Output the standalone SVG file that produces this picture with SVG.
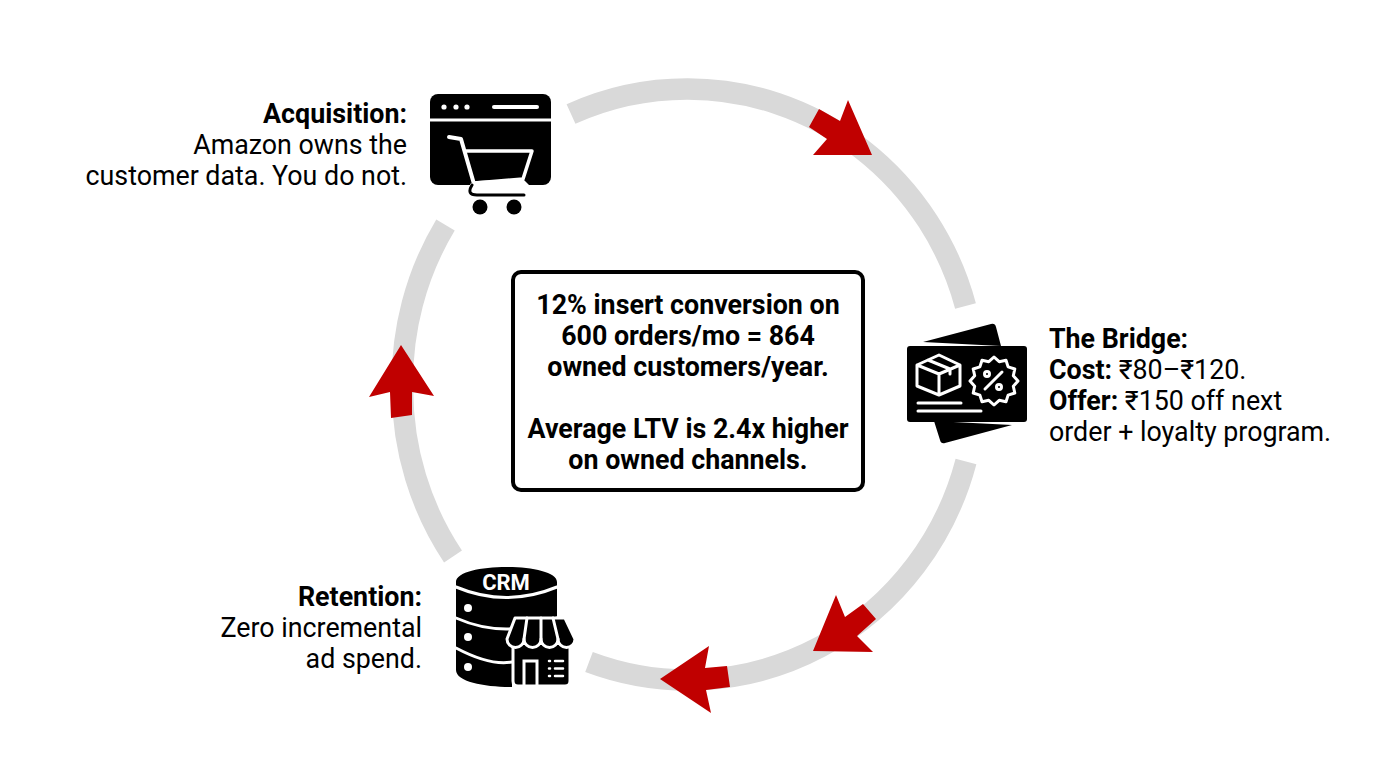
<svg xmlns="http://www.w3.org/2000/svg" width="1376" height="768" viewBox="0 0 1376 768">
<style>
.t{font-family:Roboto,"Liberation Sans",sans-serif;font-size:26.8px;fill:#000}
.b{font-weight:700}
.ring{fill:none;stroke:#d9d9d9;stroke-width:21.5}
.ah{fill:#c00000}
.w{fill:none;stroke:#fff;stroke-width:3;stroke-linecap:round;stroke-linejoin:round}
.k{fill:#000}
.f{fill:#fff}
</style>
<rect width="1376" height="768" fill="#fff"/>
<g id="connectors">
<path class="ring" d="M571 114A288 295.500 0 0 1 687 89A288 295.500 0 0 1 965.500 306"/>
<path class="ring" d="M966 461.500A288 295.500 0 0 1 589 662"/>
<path class="ring" d="M453 556.500A285.500 295.500 0 0 1 402.500 390A285.500 295.500 0 0 1 445.500 225"/>
<path class="ah" d="M848 100L872 155L813 155L827 139L809 127L819 109L840 121Z"/>
<path class="ah" d="M813 651L836 595L845 617L863 604L876 619L857 636L873 652Z"/>
<path class="ah" d="M660 679L709 646L705 668L727 666L730 687L706 690L711 713Z"/>
<path class="ah" d="M401 345L434 396L412 392V415L391 418L390 392L369 397Z"/>
</g>
<g id="center">
<rect x="513" y="272" width="350" height="218" rx="8" fill="#fff" stroke="#000" stroke-width="4"/>
<text class="t b" text-anchor="middle" x="688" y="313.500">12% insert conversion on</text>
<text class="t b" text-anchor="middle" x="688" y="344.500">600 orders/mo = 864</text>
<text class="t b" text-anchor="middle" x="688" y="375.500">owned customers/year.</text>
<text class="t b" text-anchor="middle" x="688" y="437.500">Average LTV is 2.4x higher</text>
<text class="t b" text-anchor="middle" x="688" y="468.500">on owned channels.</text>
</g>
<g id="acquisition">
<text class="t b" text-anchor="end" x="407" y="122.500">Acquisition:</text>
<text class="t" text-anchor="end" x="407" y="153.500">Amazon owns the</text>
<text class="t" text-anchor="end" x="407" y="184.500">customer data. You do not.</text>
<rect class="k" x="430" y="94" width="121" height="91" rx="8"/>
<path d="M430 120H551" stroke="#fff" stroke-width="3"/>
<circle class="f" cx="444" cy="107" r="2.6"/><circle class="f" cx="456" cy="107" r="2.6"/><circle class="f" cx="467" cy="107" r="2.6"/>
<path d="M494 107H537" stroke="#fff" stroke-width="4" stroke-linecap="round"/>
<path class="f" d="M470 184L476 181L523 179L530 186L530 192H470Z"/>
<path d="M449 137L461 139L474 184" fill="none" stroke="#fff" stroke-width="4" stroke-linecap="round" stroke-linejoin="round"/>
<path d="M466 151H532L523 179L475 183" fill="none" stroke="#fff" stroke-width="3.5" stroke-linejoin="round"/>
<path d="M472 185Q466 195 477 195H524" fill="none" stroke="#000" stroke-width="3" stroke-linecap="round"/>
<circle class="k" cx="480" cy="207" r="7.5"/><circle class="k" cx="514" cy="207" r="7.5"/>
</g>
<g id="bridge">
<path class="k" d="M923 342L991 324Q995 323 996 327L1001 346Z"/>
<path class="k" d="M934 421L1012 425L945 443Q941 444 940 440Z"/>
<rect class="k" x="907" y="346" width="120" height="76" rx="3"/>
<path class="w" d="M939 355L917 365V386L939 395L960 386V365ZM917 365L939 374L960 365M939 374V395M928 360L950 369V374"/>
<path class="w" d="M1018 381L1013.3 386.2L1014.8 393L1008.1 395.1L1006 401.8L999.2 400.3L994 405L988.8 400.3L982 401.8L979.9 395.1L973.2 393L974.7 386.2L970 381L974.7 375.8L973.2 369L979.9 366.9L982 360.2L988.8 361.7L994 357L999.2 361.7L1006 360.2L1008.1 366.9L1014.8 369L1013.3 375.8Z"/>
<path class="w" d="M985 389L1002 372"/>
<circle class="w" cx="987" cy="374" r="2.5"/><circle class="w" cx="999" cy="387" r="2.5"/>
<path class="w" d="M918 403H961M918 411H981"/>
<text class="t b" x="1049" y="347.500">The Bridge:</text>
<text class="t" x="1049" y="378.500"><tspan class="b">Cost:</tspan> ₹80–₹120.</text>
<text class="t" x="1049" y="409.500"><tspan class="b">Offer:</tspan> ₹150 off next</text>
<text class="t" x="1049" y="440.500">order + loyalty program.</text>
</g>
<g id="retention">
<text class="t b" text-anchor="end" x="422" y="605.500">Retention:</text>
<text class="t" text-anchor="end" x="422" y="636.500">Zero incremental</text>
<text class="t" text-anchor="end" x="422" y="667.500">ad spend.</text>
<path class="k" d="M456 582C456 562 557 562 557 582V640H512V687C485 687 456 682 456 670Z"/>
<path class="w" stroke-linecap="butt" d="M456 587Q506 608 557 587M456 618Q506 640 557 618M456 648Q490 666 512 662"/>
<circle class="f" cx="468" cy="608" r="4"/><circle class="f" cx="468" cy="637" r="4"/><circle class="f" cx="468" cy="667" r="4"/>
<text x="506" y="590" text-anchor="middle" style="font-family:Roboto,'Liberation Sans',sans-serif;font-size:22px;font-weight:700;fill:#fff">CRM</text>
<path class="k" d="M513 640V681Q513 686 518 686H565Q570 686 570 681V640Z" stroke="#fff" stroke-width="3"/>
<path class="k" d="M515 618H565L575 639A8.500 8.500 0 0 1 558 639A8.500 8.500 0 0 1 541 639A8.500 8.500 0 0 1 524 639A8.500 8.500 0 0 1 507 639Z" stroke="#fff" stroke-width="3" stroke-linejoin="round"/>
<path class="w" d="M527 618L524 639M541 618V639M553 618L558 639"/>
<path d="M524 685V661H537V685" fill="none" stroke="#fff" stroke-width="3"/>
<path class="w" style="stroke-width:2.5" d="M549 661H550M555 661H563M549 668.500H550M555 668.500H563M549 676H550M555 676H563"/>
</g>
</svg>
